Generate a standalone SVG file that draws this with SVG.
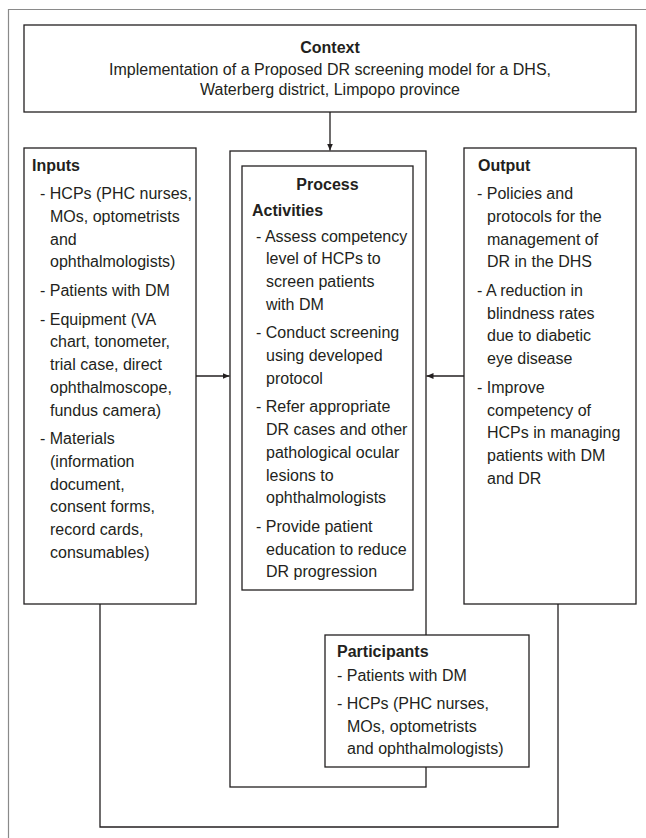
<svg xmlns="http://www.w3.org/2000/svg" width="646" height="838" viewBox="0 0 646 838">
<style>
.box{fill:#fff;stroke:#231f20;stroke-width:1.3}
.frame{fill:none;stroke:#8a8a8a;stroke-width:1.2}
.conn{fill:none;stroke:#231f20;stroke-width:1.3}
text{font-family:"Liberation Sans",Arial,sans-serif;font-size:16px;fill:#231f20}
.b{font-weight:bold}
.c{text-anchor:middle}
</style>
<defs>
<marker id="ah" markerWidth="8" markerHeight="8" refX="7" refY="4" orient="auto" markerUnits="userSpaceOnUse">
<path d="M0,1 L7,4 L0,7 Z" fill="#231f20"/>
</marker>
</defs>
<path class="frame" d="M8.5,838 V9.5 H646"/>
<g id="connectors">
<line class="conn" x1="330" y1="112" x2="330" y2="150.5" marker-end="url(#ah)"/>
<line class="conn" x1="196" y1="376" x2="229.5" y2="376" marker-end="url(#ah)"/>
<line class="conn" x1="464" y1="376" x2="426.5" y2="376" marker-end="url(#ah)"/>
<path class="conn" d="M100,604 V827 H558 V604"/>
</g>
<g id="context">
<rect class="box" x="24" y="25" width="612" height="87"/>
<text x="330" y="52.5" class="c b">Context</text>
<text x="330" y="74.5" class="c">Implementation of a Proposed DR screening model for a DHS,</text>
<text x="330" y="95" class="c">Waterberg district, Limpopo province</text>
</g>
<g id="inputs">
<rect class="box" x="24" y="148" width="172" height="456"/>
<text x="32" y="170.5" class="b">Inputs</text>
<text x="40" y="199.2">- HCPs (PHC nurses,</text>
<text x="50" y="221.9">MOs, optometrists</text>
<text x="50" y="244.6">and</text>
<text x="50" y="267.3">ophthalmologists)</text>
<text x="40" y="296">- Patients with DM</text>
<text x="40" y="324.7">- Equipment (VA</text>
<text x="50" y="347.4">chart, tonometer,</text>
<text x="50" y="370.1">trial case, direct</text>
<text x="50" y="392.8">ophthalmoscope,</text>
<text x="50" y="415.5">fundus camera)</text>
<text x="40" y="444.2">- Materials</text>
<text x="50" y="466.9">(information</text>
<text x="50" y="489.6">document,</text>
<text x="50" y="512.3">consent forms,</text>
<text x="50" y="535">record cards,</text>
<text x="50" y="557.7">consumables)</text>
</g>
<g id="process">
<rect class="box" x="230" y="151" width="196" height="636"/>
</g>
<g id="activities">
<rect class="box" x="242" y="166" width="171" height="424"/>
<text x="327.5" y="189.5" class="c b">Process</text>
<text x="252" y="215.5" class="b">Activities</text>
<text x="256" y="241.5">- Assess competency</text>
<text x="266" y="264.2">level of HCPs to</text>
<text x="266" y="286.9">screen patients</text>
<text x="266" y="309.6">with DM</text>
<text x="256" y="338.3">- Conduct screening</text>
<text x="266" y="361">using developed</text>
<text x="266" y="383.7">protocol</text>
<text x="256" y="412.4">- Refer appropriate</text>
<text x="266" y="435.1">DR cases and other</text>
<text x="266" y="457.8">pathological ocular</text>
<text x="266" y="480.5">lesions to</text>
<text x="266" y="503.2">ophthalmologists</text>
<text x="256" y="531.9">- Provide patient</text>
<text x="266" y="554.6">education to reduce</text>
<text x="266" y="577.3">DR progression</text>
</g>
<g id="output">
<rect class="box" x="464" y="148" width="172" height="456"/>
<text x="478" y="170.5" class="b">Output</text>
<text x="477" y="199.2">- Policies and</text>
<text x="487" y="221.9">protocols for the</text>
<text x="487" y="244.6">management of</text>
<text x="487" y="267.3">DR in the DHS</text>
<text x="477" y="296">- A reduction in</text>
<text x="487" y="318.7">blindness rates</text>
<text x="487" y="341.4">due to diabetic</text>
<text x="487" y="364.1">eye disease</text>
<text x="477" y="392.8">- Improve</text>
<text x="487" y="415.5">competency of</text>
<text x="487" y="438.2">HCPs in managing</text>
<text x="487" y="460.9">patients with DM</text>
<text x="487" y="483.6">and DR</text>
</g>
<g id="participants">
<rect class="box" x="325" y="635" width="204" height="132"/>
<text x="337" y="656.5" class="b">Participants</text>
<text x="337" y="680.5">- Patients with DM</text>
<text x="337" y="709">- HCPs (PHC nurses,</text>
<text x="347" y="731.7">MOs, optometrists</text>
<text x="347" y="754.4">and ophthalmologists)</text>
</g>
</svg>
